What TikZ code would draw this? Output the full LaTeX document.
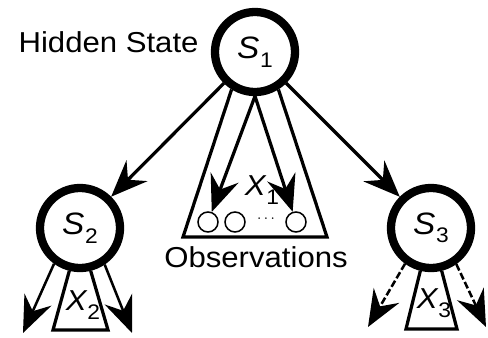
\documentclass[tikz,border=0pt]{standalone}
\usepackage{fontspec}
\setmainfont{Liberation Sans}[FakeStretch=1.08]
\usetikzlibrary{arrows.meta,positioning}
\newcommand{\varlbl}[2]{{\itshape #1}\kern0.6pt\raisebox{-6pt}{\fontsize{15}{18}\selectfont #2}}
\begin{document}
\begin{tikzpicture}[x=0.025cm, y=-0.025cm,
    every node/.style={inner sep=0pt, font=\fontsize{20.5}{24}\selectfont},
    state/.style={circle, draw, line width=5.9pt, fill=white, minimum size=2cm, font=\fontsize{22}{26}\selectfont},
    obs/.style={circle, draw, line width=1.1pt, minimum size=0.5cm},
    plate/.style={line width=2.3pt, line join=miter},
    edge/.style={-{Stealth[length=26pt, width=21pt, inset=9pt]}, line width=2.3pt},
    subedge/.style={edge, line width=1.8pt},
    dashededge/.style={subedge, dash pattern=on 5pt off 2pt}]
    \useasboundingbox (0,0) rectangle (488,337);
    \node[state] (s1) at (255,52) {\varlbl{S}{1}};
    \node[state] (s2) at (80,228) {\varlbl{S}{2}};
    \node[state] (s3) at (431,228) {\varlbl{S}{3}};
    \node[anchor=base east] (hidden) at ([xshift=-0.3cm]s1.west) {Hidden State};
    % observation plate of S1
    \coordinate (p1l) at (183,237);
    \coordinate (p1r) at (327,237);
    \draw[plate] (s1.238) -- (p1l) -- (p1r) -- (s1.302);
    \foreach \i/\x in {1/208,2/235,3/296} {
        \node[obs] (o\i) at (\x,222) {};
    }
    \node (dots) at (266,219) {\fontsize{11}{12}\selectfont$\cdots$};
    \node (x1) at (262,190) {\varlbl{X}{1}};
    \node (obslbl) at (256,257) {Observations};
    \draw[edge] (s1.south) -- (o1);
    \draw[edge] (s1.south) -- (o3);
    \draw[edge] (s1) -- (s2);
    \draw[edge] (s1) -- (s3);
    % lower plates
    \coordinate (p2l) at (53,330);
    \coordinate (p2r) at (108,330);
    \coordinate (p3l) at (406,329);
    \coordinate (p3r) at (457,329);
    \draw[plate] (s2.256) -- (p2l) -- (p2r) -- (s2.284);
    \draw[plate] (s3.256) -- (p3l) -- (p3r) -- (s3.284);
    \node (x2) at (83,305) {\varlbl{X}{2}};
    \node (x3) at (434,303) {\varlbl{X}{3}};
    \coordinate (e2l) at (23,333);
    \coordinate (e2r) at (132,333);
    \coordinate (e3l) at (368,327);
    \coordinate (e3r) at (486,327);
    \draw[subedge] (s2.-126) -- (e2l);
    \draw[subedge] (s2.-56) -- (e2r);
    \draw[dashededge] (s3.-126) -- (e3l);
    \draw[dashededge] (s3.-55) -- (e3r);
\end{tikzpicture}
\end{document}
